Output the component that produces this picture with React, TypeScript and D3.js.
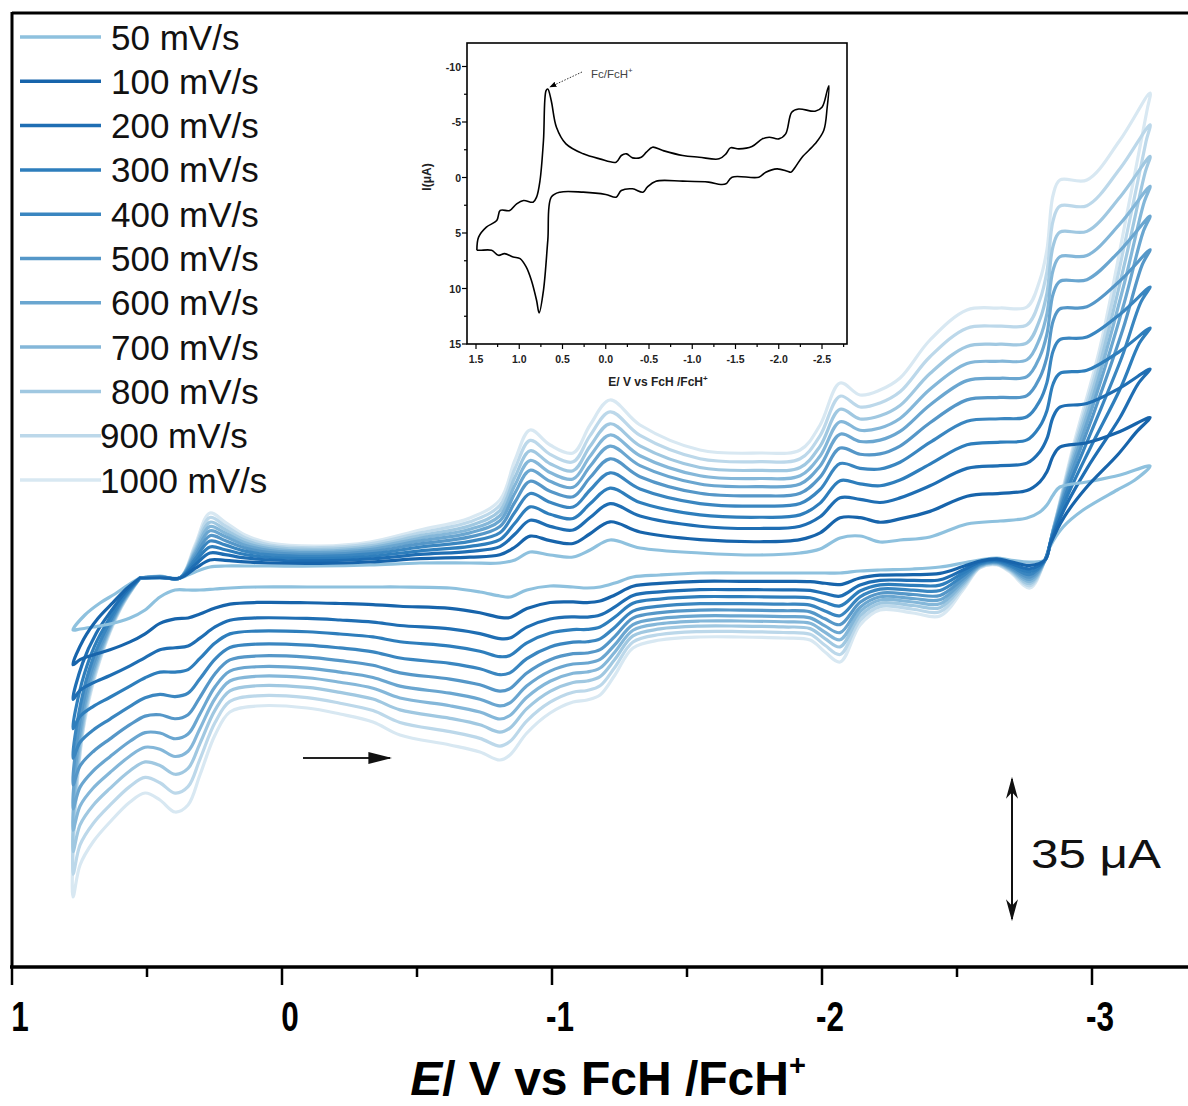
import React from 'react';
import * as d3 from 'd3';

// ---------- Main chart data ----------
const scanRates = [50, 100, 200, 300, 400, 500, 600, 700, 800, 900, 1000];
const seriesColors = ['#8ec1de', '#1764ab', '#1f6eb3', '#2e7ebc', '#3a86c0', '#5597c8', '#6aa6d0', '#84b7d9', '#a0c8e1', '#bcd8ea', '#d8e8f2'];
// relative offset of each scan rate between the 50 and 1000 mV/s traces
const spreadFraction = [0, 0.13, 0.26, 0.37, 0.48, 0.58, 0.67, 0.75, 0.83, 0.915, 1];

// forward scan (towards negative potentials), E in V, I in µA (cathodic negative, drawn up)
const fwdE = [0.526, 0.452, 0.378, 0.322, 0.267, 0.211, 0.137, 0.044, -0.141, -0.326, -0.511, -0.696, -0.807, -0.863, -0.919, -0.993, -1.078, -1.141, -1.215, -1.326, -1.548, -1.770, -1.919, -1.993, -2.067, -2.141, -2.215, -2.289, -2.400, -2.537, -2.659, -2.759, -2.807, -2.833, -2.856, -2.881, -2.981, -3.104, -3.215];
const fwdI50 = [3.25, 3.25, 3.25, 1.75, 0.5, 0.25, 0.25, 0.25, 0.25, 0, -0.5, -0.5, -0.5, -1.25, -3.25, -2.5, -2, -3.75, -6.25, -4.25, -3, -2.5, -3, -4, -6.75, -7.25, -5.75, -6.25, -7, -10.25, -11, -11.75, -13.25, -15, -17.5, -19.5, -20.75, -22.5, -24.75];
const fwdI1000 = [3.25, 2.75, 3.25, -5, -13, -10.75, -7.5, -5.5, -4.75, -5.75, -8.75, -11.75, -16.25, -26.25, -33.75, -30, -28, -35, -41.25, -35, -28.75, -28, -28.75, -35, -45.5, -42.5, -43.75, -46.75, -56.25, -63.75, -64.25, -64.5, -71.25, -78.75, -92.5, -96.25, -96.25, -106.25, -118];

// switching region back to the crossing point
const retE50 = [-3.159, -3.093, -2.967, -2.893, -2.844, -2.826];
const retI50 = [-21.25, -18.75, -13.75, -9.5, -4.5, -1.25];
const retE1000 = [-3.204, -3.130, -3.030, -2.930, -2.863, -2.826];
const retI1000 = [-113.75, -88, -54.5, -29.5, -10.75, -1.25];

// reverse scan (towards positive potentials)
const revE = [-2.770, -2.696, -2.648, -2.585, -2.522, -2.437, -2.337, -2.215, -2.141, -2.067, -2.011, -1.956, -1.856, -1.696, -1.548, -1.400, -1.300, -1.233, -1.178, -1.130, -1.078, -0.993, -0.907, -0.844, -0.807, -0.733, -0.622, -0.437, -0.337, -0.215, -0.093, 0.093, 0.193, 0.248, 0.304, 0.348, 0.396, 0.452, 0.507, 0.563, 0.637, 0.700, 0.748, 0.774];
const revI50 = [-0.75, -1.25, -1.75, -1.25, -0.5, 0.5, 1, 1.25, 1.5, 2, 2, 2, 2, 2, 2, 2.5, 3, 4.5, 5.5, 5.75, 5.5, 5.25, 6.25, 8, 7.75, 6.75, 5.75, 5.5, 5.5, 5.5, 5.5, 5.5, 5.75, 6, 6.25, 6.25, 6.25, 8, 11.25, 13.25, 14.75, 15.5, 16, 16.25];
const revI1000 = [5.75, 1.75, 0, 0.75, 6.25, 12.75, 12, 11.25, 15, 24.25, 21.75, 18.75, 18.25, 18, 18, 18.75, 20.75, 27.5, 32.5, 33.75, 34.25, 37, 42, 47.5, 48.75, 46.75, 45, 42.5, 39.25, 37.25, 35.75, 35.25, 36.75, 42.5, 52.5, 60, 61.75, 58.75, 57, 59.25, 64.25, 69.25, 75, 83];

// positive switching back to the start
const closeE50 = [0.730, 0.674, 0.619, 0.570, 0.526];
const closeI50 = [12.5, 9.5, 7.25, 5, 3.25];
const closeE1000 = [0.763, 0.730, 0.674, 0.600, 0.526];
const closeI1000 = [58.75, 38.75, 23.75, 11.25, 3.25];

const mainMajorTicks = [1, 0, -1, -2, -3];
const mainMinorTicks = [0.5, -0.5, -1.5, -2.5];

// ---------- Inset data ----------
const insetFwdE = [1.49, 1.47, 1.38, 1.26, 1.22, 1.11, 1.03, 0.95, 0.84, 0.80, 0.76, 0.72, 0.69, 0.67, 0.63, 0.57, 0.46, 0.26, 0.07, -0.12, -0.18, -0.24, -0.31, -0.41, -0.47, -0.54, -0.66, -0.89, -1.08, -1.31, -1.39, -1.44, -1.54, -1.69, -1.81, -1.89, -2.00, -2.08, -2.15, -2.23, -2.42, -2.50, -2.56, -2.58];
const insetFwdI = [6.56, 5.37, 4.47, 3.87, 2.97, 2.97, 2.37, 2.07, 2.22, 1.77, 0.27, -3.33, -7.82, -7.97, -6.92, -4.53, -3.03, -2.13, -1.68, -1.38, -1.98, -2.13, -1.77, -1.83, -2.28, -2.73, -2.43, -1.98, -1.83, -1.68, -2.13, -2.67, -2.58, -2.79, -3.48, -3.63, -3.48, -3.93, -5.88, -6.17, -5.97, -6.33, -7.82, -8.27];
const insetRevE = [-2.56, -2.52, -2.42, -2.27, -2.19, -2.14, -2.10, -1.98, -1.85, -1.77, -1.46, -1.39, -1.33, -1.19, -0.89, -0.58, -0.48, -0.43, -0.31, -0.18, -0.12, 0.0, 0.26, 0.53, 0.63, 0.67, 0.72, 0.77, 0.80, 0.86, 0.92, 0.99, 1.07, 1.17, 1.24, 1.32, 1.45, 1.49];
const insetRevI = [-6.33, -4.23, -3.03, -1.83, -0.93, -0.48, -0.57, -0.78, -0.48, -0.03, -0.03, 0.57, 0.63, 0.42, 0.33, 0.33, 0.87, 1.32, 1.02, 1.17, 1.77, 1.53, 1.32, 1.32, 1.77, 5.67, 10.16, 12.2, 11.06, 9.26, 8.06, 7.31, 7.16, 6.86, 7.01, 6.56, 6.56, 6.56];
const insetXTicks = [1.5, 1.0, 0.5, 0.0, -0.5, -1.0, -1.5, -2.0, -2.5];
const insetYTicks = [-10, -5, 0, 5, 10, 15];

const FONT = "'Liberation Sans', Arial, sans-serif";

function lerp(a: number, b: number, t: number) {
  return a + (b - a) * t;
}

function buildLoop(f: number): [number, number][] {
  const pts: [number, number][] = [];
  fwdE.forEach((e, i) => pts.push([e, lerp(fwdI50[i], fwdI1000[i], f)]));
  retE50.forEach((e, i) => pts.push([lerp(e, retE1000[i], f), lerp(retI50[i], retI1000[i], f)]));
  revE.forEach((e, i) => pts.push([e, lerp(revI50[i], revI1000[i], f)]));
  closeE50.forEach((e, i) => pts.push([lerp(e, closeE1000[i], f), lerp(closeI50[i], closeI1000[i], f)]));
  return pts;
}

export default function App() {
  const W = 1188, H = 1106;
  const x = d3.scaleLinear().domain([1, -3]).range([12, 1092]);
  const y = d3.scaleLinear().domain([0, 100]).range([565, 965]);
  const line = d3.line<[number, number]>().x(d => x(d[0])).y(d => y(d[1])).curve(d3.curveCatmullRom.alpha(0.5));

  // inset scales
  const ix = d3.scaleLinear().domain([1.5, -2.5]).range([476, 822]);
  const iy = d3.scaleLinear().domain([-10, 15]).range([66.5, 344]);
  const iLine = d3.line<[number, number]>().x(d => ix(d[0])).y(d => iy(d[1])).curve(d3.curveCatmullRom.alpha(0.5));
  const insetPts: [number, number][] = [
    ...insetFwdE.map((e, i) => [e, insetFwdI[i]] as [number, number]),
    ...insetRevE.map((e, i) => [e, insetRevI[i]] as [number, number]),
  ];
  const boxL = 467, boxR = 847, boxT = 43, boxB = 344;
  const insetMinorX = d3.range(1.5, -2.76, -0.25);
  const insetMinorY = d3.range(-10, 15.1, 2.5);

  const drawOrder = [10, 9, 8, 7, 6, 5, 4, 3, 2, 0, 1];
  const axisY = 967;

  return (
    <svg width={W} height={H} style={{ display: 'block', position: 'absolute', left: 0, top: 0, background: '#fff' }}>
      <defs>
        <marker id="ah" viewBox="0 0 10 10" refX="9" refY="5" markerWidth="7" markerHeight="7" orient="auto-start-reverse" markerUnits="userSpaceOnUse">
          <path d="M0,1 L10,5 L0,9 z" fill="#000" />
        </marker>
        <marker id="ahBig" viewBox="0 0 10 10" refX="9" refY="5" markerWidth="22" markerHeight="12" orient="auto-start-reverse" markerUnits="userSpaceOnUse" preserveAspectRatio="none">
          <path d="M0,0 L10,5 L0,10 L3,5 z" fill="#111" />
        </marker>
        <marker id="ahDir" viewBox="0 0 10 10" refX="9" refY="5" markerWidth="24" markerHeight="12" orient="auto" markerUnits="userSpaceOnUse" preserveAspectRatio="none">
          <path d="M0,0 L10,5 L0,10 z" fill="#111" />
        </marker>
      </defs>
      <rect x={0} y={0} width={W} height={H} fill="#fff" />

      {/* CV traces */}
      <g fill="none" strokeWidth={3.2} strokeLinejoin="round" strokeLinecap="round">
        {drawOrder.map(k => (
          <path key={k} d={line(buildLoop(spreadFraction[k])) || ''} stroke={seriesColors[k]} />
        ))}
      </g>

      {/* frame */}
      <line x1={12} y1={13} x2={W} y2={13} stroke="#000" strokeWidth={3} />
      <line x1={12} y1={12} x2={12} y2={axisY + 1} stroke="#000" strokeWidth={3} />
      <line x1={10} y1={axisY} x2={W} y2={axisY} stroke="#000" strokeWidth={3.5} />
      {mainMajorTicks.map(t => (
        <line key={'M' + t} x1={x(t)} x2={x(t)} y1={axisY} y2={axisY + 18} stroke="#000" strokeWidth={2.5} />
      ))}
      {mainMinorTicks.map(t => (
        <line key={'m' + t} x1={x(t)} x2={x(t)} y1={axisY} y2={axisY + 10} stroke="#000" strokeWidth={2.5} />
      ))}
      {mainMajorTicks.map(t => (
        <text key={'L' + t} x={x(t) + 8} y={1031} textAnchor="middle" fontFamily={FONT} fontWeight="bold" fontSize={42}
          transform={`translate(${x(t) + 8},0) scale(0.75,1) translate(${-(x(t) + 8)},0)`} fill="#000">
          {t === 0 ? '0' : String(t)}
        </text>
      ))}
      <text x={608} y={1095} textAnchor="middle" fontFamily={FONT} fontWeight="bold" fontSize={48} fill="#000">
        <tspan fontStyle="italic">E</tspan>/ V vs FcH /FcH<tspan dy={-20} fontSize={29}>+</tspan>
      </text>

      {/* legend */}
      {scanRates.map((r, i) => {
        const ly = 37 + i * 44.3;
        return (
          <g key={'lg' + r}>
            <line x1={20} x2={101} y1={ly} y2={ly} stroke={seriesColors[i]} strokeWidth={3.5} />
            <text x={i >= 9 ? 100 : 111} y={ly + 12.5} fontFamily={FONT} fontSize={35} fill="#111">{`${r} mV/s`}</text>
          </g>
        );
      })}

      {/* scan direction arrow */}
      <line x1={303} y1={758} x2={390} y2={758} stroke="#222" strokeWidth={1.8} markerEnd="url(#ahDir)" />

      {/* scale bar */}
      <line x1={1012} x2={1012} y1={y(53.5)} y2={y(88.5)} stroke="#111" strokeWidth={2}
        markerStart="url(#ahBig)" markerEnd="url(#ahBig)" />
      <text x={1031} y={868} fontFamily={FONT} fontSize={40} fill="#111" textLength={130} lengthAdjust="spacingAndGlyphs">35 μA</text>

      {/* inset */}
      <g>
        <rect x={boxL} y={boxT} width={boxR - boxL} height={boxB - boxT} fill="#fff" stroke="#000" strokeWidth={1.6} />
        <path d={iLine(insetPts) || ''} fill="none" stroke="#000" strokeWidth={1.6} strokeLinejoin="round" />
        {insetMinorX.map(t => {
          const isMajor = Math.abs(t * 2 - Math.round(t * 2)) < 1e-6;
          return <line key={'ix' + t} x1={ix(t)} x2={ix(t)} y1={boxB} y2={boxB + (isMajor ? 5 : 3)} stroke="#000" strokeWidth={1.2} />;
        })}
        {insetMinorY.map(t => {
          const isMajor = Math.abs(t / 5 - Math.round(t / 5)) < 1e-6;
          return <line key={'iy' + t} x1={boxL} x2={boxL - (isMajor ? 5 : 3)} y1={iy(t)} y2={iy(t)} stroke="#000" strokeWidth={1.2} />;
        })}
        {insetXTicks.map(t => (
          <text key={'ixl' + t} x={ix(t)} y={363} textAnchor="middle" fontFamily={FONT} fontWeight="bold" fontSize={10.5} fill="#222">
            {t.toFixed(1)}
          </text>
        ))}
        {insetYTicks.map(t => (
          <text key={'iyl' + t} x={461} y={iy(t) + 4} textAnchor="end" fontFamily={FONT} fontWeight="bold" fontSize={10.5} fill="#222">
            {String(t)}
          </text>
        ))}
        <text transform={`translate(431,177) rotate(-90)`} textAnchor="middle" fontFamily={FONT} fontWeight="bold" fontSize={12} fill="#222">I(μA)</text>
        <text x={658} y={386} textAnchor="middle" fontFamily={FONT} fontWeight="bold" fontSize={12} fill="#222">
          E/ V vs FcH /FcH<tspan dy={-5} fontSize={8}>+</tspan>
        </text>
        <text x={591} y={78} fontFamily={FONT} fontSize={11.5} fill="#444">Fc/FcH<tspan dy={-5} fontSize={8}>+</tspan></text>
        <line x1={582} y1={72} x2={550} y2={87} stroke="#333" strokeWidth={1} strokeDasharray="1.5,1.5" markerEnd="url(#ah)" />
      </g>
    </svg>
  );
}
